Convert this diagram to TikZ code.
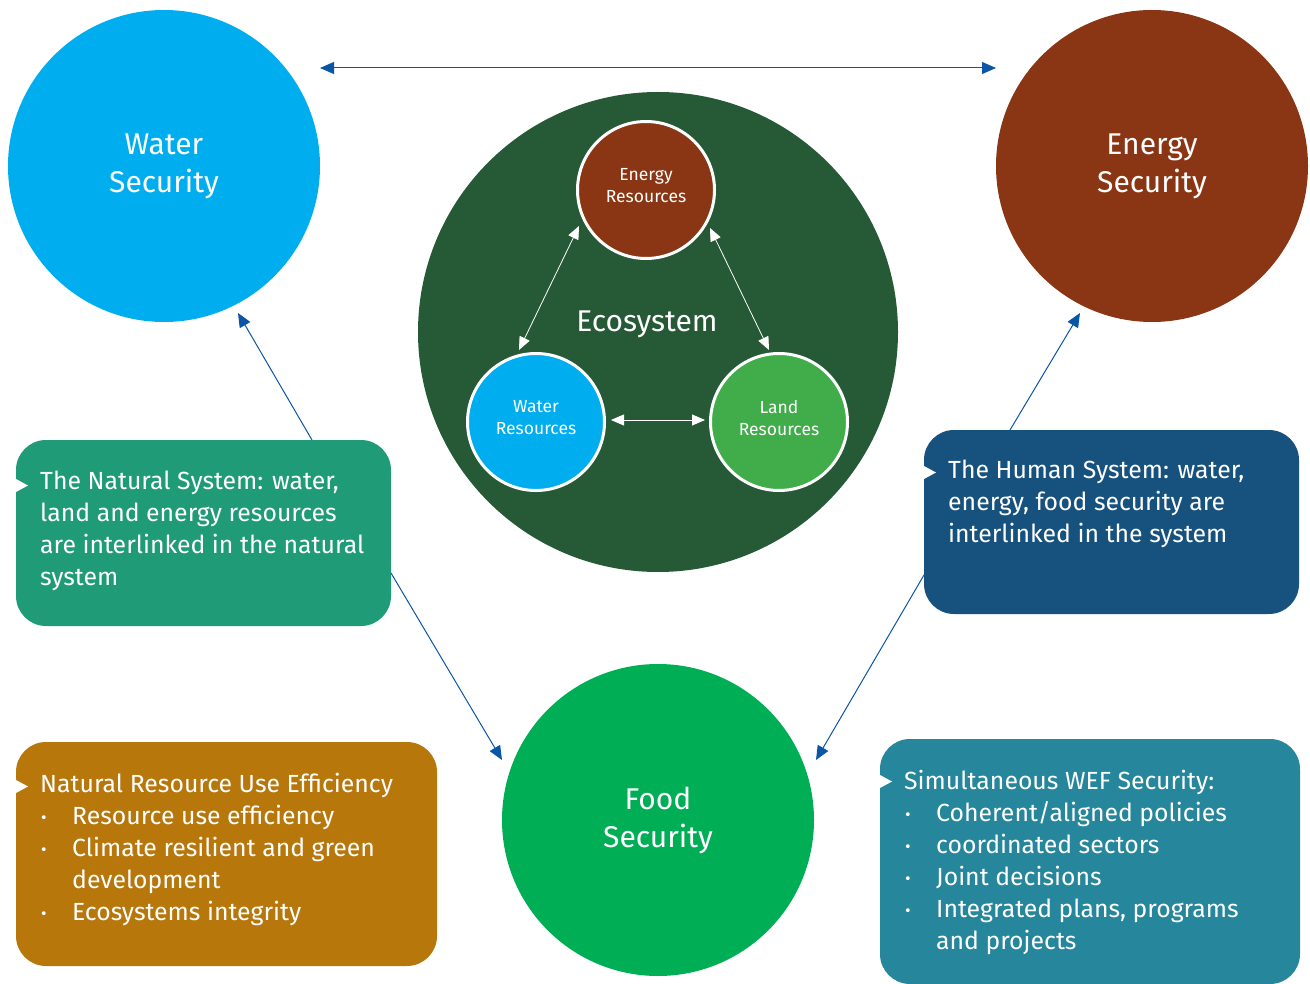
\documentclass[tikz,border=0pt]{standalone}
\usepackage{fontspec}
\setmainfont{Fira Sans}
\usetikzlibrary{arrows.meta}
\definecolor{cwater}{HTML}{00AEEF}
\definecolor{cenergy}{HTML}{8A3614}
\definecolor{ceco}{HTML}{265936}
\definecolor{cland}{HTML}{40AD4A}
\definecolor{cfood}{HTML}{00AE55}
\definecolor{cnat}{HTML}{1F9B78}
\definecolor{chum}{HTML}{17527E}
\definecolor{ceff}{HTML}{B8770B}
\definecolor{cwef}{HTML}{26869C}
\definecolor{carrow}{HTML}{0B55A6}
\newcommand{\bul}{\makebox[32pt][l]{\hspace{1pt}\raisebox{1pt}{\fontsize{17}{17}\selectfont\textbullet}}}
\newcommand{\ind}{\hspace*{32pt}}
\tikzset{
  bigc/.style={circle,minimum size=312pt,inner sep=0pt,text=white,align=center,font=\fontsize{30}{38}\selectfont},
  smallc/.style={circle,draw=white,line width=3pt,minimum size=137pt,inner sep=0pt},
  smalltext/.style={text=white,align=center,font=\fontsize{17.5}{22}\selectfont,yshift=4pt},
  infobox/.style={rounded corners=30pt},
  boxtext/.style={anchor=north west,inner sep=0pt,text=white,align=left,font=\fontsize{24.8}{32}\selectfont},
  bluearrow/.style={draw=carrow,line width=1pt,{Triangle[length=14pt,width=12pt]}-{Triangle[length=14pt,width=12pt]}},
  bluetip/.style={draw=carrow,line width=1pt,-{Triangle[length=14pt,width=12pt]}},
  whitearrow/.style={draw=white,line width=0.8pt,{Triangle[length=13pt,width=11pt]}-{Triangle[length=13pt,width=11pt]}},
  notch/.style={fill=white}
}
\begin{document}
\begin{tikzpicture}[x=1pt,y=-1pt]
\useasboundingbox (0,0) rectangle (1310,984);
% big circles
\node[bigc,fill=cwater] (ws) at (164,166) {Water\\Security};
\node[bigc,fill=cenergy] (es) at (1152,166) {Energy\\Security};
\node[bigc,fill=cfood] (fs) at (658,820) {Food\\Security};
\node[circle,fill=ceco,minimum size=480pt,inner sep=0pt] (eco) at (658,332) {};
\node[text=white,font=\fontsize{30}{38}\selectfont] (ecol) at (647,324) {Ecosystem};
% resources
\node[smallc,fill=cenergy,label={[smalltext]center:Energy\\Resources}] (er) at (646,190) {};
\node[smallc,fill=cwater,label={[smalltext]center:Water\\Resources}] (wr) at (536,422) {};
\node[smallc,fill=cland,label={[smalltext]center:Land\\Resources}] (lr) at (779,422) {};
% boxes
\fill[cnat,infobox] (16,440) rectangle (391,626);
\node[inner sep=0pt] (nat) at (203.5,533) {};
\fill[notch] (16,479) -- (28,485.5) -- (16,492) -- cycle;
\node[boxtext] (natt) at (40,471) {The Natural System: water,\\land and energy resources\\are interlinked in the natural\\system};
\fill[chum,infobox] (924,430) rectangle (1299,614);
\node[inner sep=0pt] (hum) at (1111.5,522) {};
\fill[notch] (924,466) -- (936,472.5) -- (924,479) -- cycle;
\node[boxtext] (humt) at (948,460) {The Human System: water,\\energy, food security are\\interlinked in the system};
\fill[ceff,infobox] (16,742) rectangle (437,966);
\node[inner sep=0pt] (eff) at (226.5,854) {};
\fill[notch] (16,780) -- (28,786.5) -- (16,793) -- cycle;
\node[boxtext] (efft) at (40,773) {Natural Resource Use Efficiency\\\bul Resource use efficiency\\\bul Climate resilient and green\\\ind development\\\bul Ecosystems integrity};
\fill[cwef,infobox] (880,739) rectangle (1300,984);
\node[inner sep=0pt] (wef) at (1090,861) {};
\fill[notch] (880,775) -- (892,781.5) -- (880,788) -- cycle;
\node[boxtext] (weft) at (904,770) {Simultaneous WEF Security:\\\bul Coherent/aligned policies\\\bul coordinated sectors\\\bul Joint decisions\\\bul Integrated plans, programs\\\ind and projects};
% arrow end coordinates
\coordinate (t1) at (320,68);
\coordinate (t2) at (996,68);
\coordinate (n1) at (312,440);
\coordinate (n2) at (238,313);
\coordinate (n3) at (391,573);
\coordinate (n4) at (502,760);
\coordinate (h1) at (1010,430);
\coordinate (h2) at (1080,313);
\coordinate (h3) at (924,575);
\coordinate (h4) at (816,760);
\coordinate (r1) at (579,226);
\coordinate (r2) at (519,350);
\coordinate (r3) at (710,228);
\coordinate (r4) at (769,350);
\coordinate (r5) at (611,420);
\coordinate (r6) at (705,420);
% blue arrows
\draw[bluearrow] (t1) -- (t2);
\draw[bluetip] (n1) -- (n2);
\draw[bluetip] (n3) -- (n4);
\draw[bluetip] (h1) -- (h2);
\draw[bluetip] (h3) -- (h4);
% white arrows
\draw[whitearrow] (r1) -- (r2);
\draw[whitearrow] (r3) -- (r4);
\draw[whitearrow] (r5) -- (r6);
\end{tikzpicture}
\end{document}
